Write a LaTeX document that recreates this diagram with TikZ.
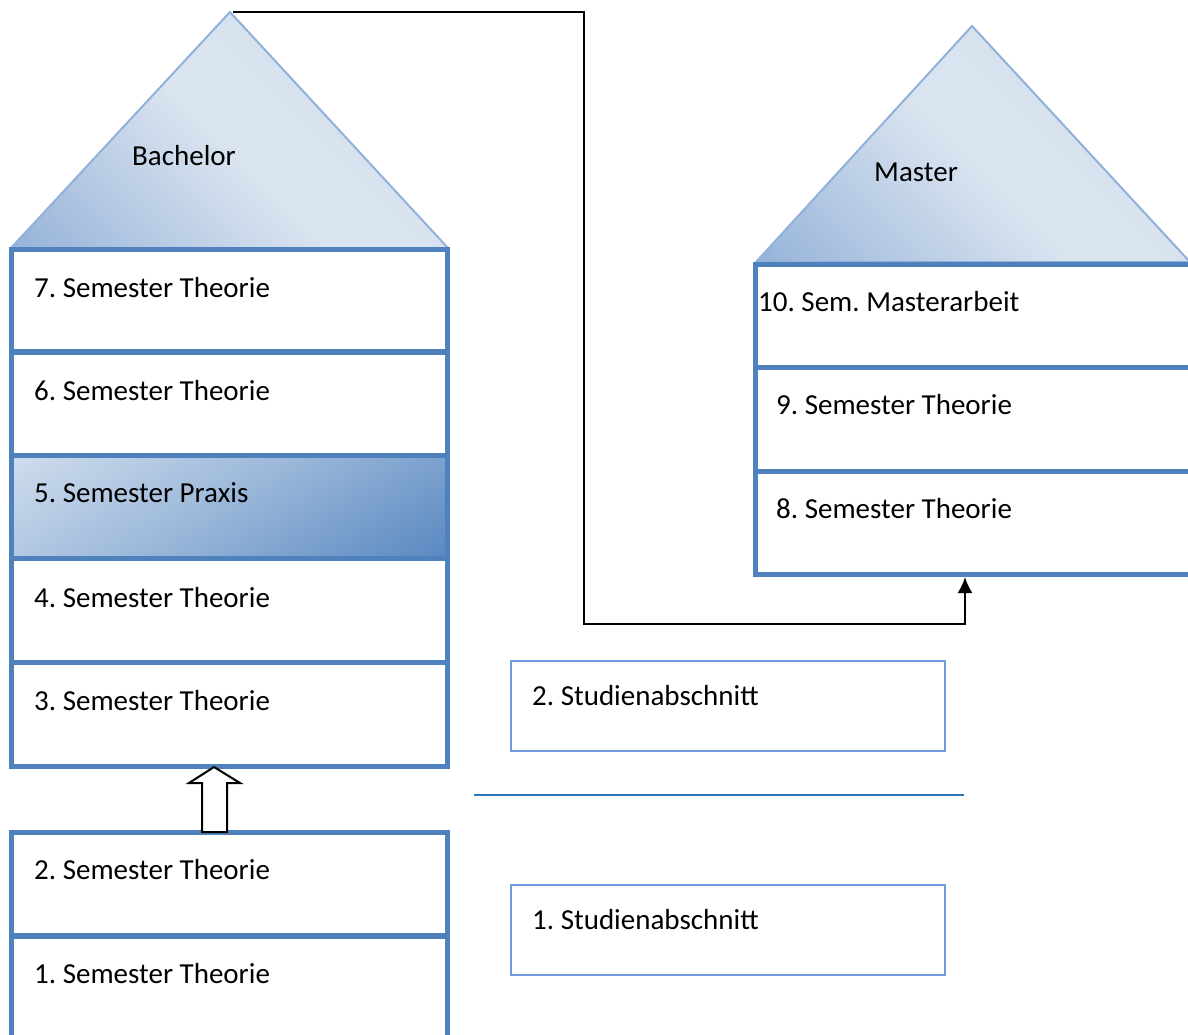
\documentclass[tikz,border=0pt]{standalone}
\usepackage{fontspec}
\setmainfont{Carlito}
\usetikzlibrary{arrows.meta}
\frenchspacing

\definecolor{boxblue}{HTML}{4F81BD}
\definecolor{roofline}{HTML}{92B1DA}
\definecolor{roofdark}{HTML}{88A9D4}
\definecolor{rooflight}{HTML}{DAE4F0}
\definecolor{rooftop}{HTML}{BFD0E8}
\definecolor{praxislight}{HTML}{DCE6F2}
\definecolor{stageblue}{HTML}{6F9BDB}
\definecolor{splitblue}{HTML}{2E75B6}

\pgfdeclareverticalshading{roofshade}{100bp}{color(0bp)=(roofdark); color(8bp)=(roofdark);
  color(48bp)=(rooflight); color(58bp)=(rooflight); color(92bp)=(rooftop); color(100bp)=(rooftop)}
\pgfdeclareverticalshading{praxisshade}{100bp}{color(0bp)=(boxblue); color(10bp)=(boxblue);
  color(50bp)=(praxislight!52!boxblue); color(92bp)=(praxislight); color(100bp)=(praxislight)}

\tikzset{
  sembox/.style={draw=boxblue, line width=5pt, rectangle, inner sep=0pt, outer sep=0pt,
    minimum width=#1, minimum height=103.5pt},
  sembox/.default=436pt,
  stagebox/.style={draw=stageblue, line width=2pt, rectangle, inner sep=0pt, outer sep=0pt,
    minimum width=434pt, minimum height=90pt},
  roof/.style={draw=roofline, line width=2pt, shading=roofshade, shading angle=-45},
  lbl/.style={anchor=base west, inner sep=0pt, font=\fontsize{29}{34}\selectfont},
  conn/.style={line width=2pt, -{Latex[length=16pt,width=15pt]}},
  hollow/.style={draw=black, fill=white, line width=2pt, line join=miter}
}

\begin{document}
\begin{tikzpicture}[x=1pt,y=-1pt]
  \useasboundingbox (0,0) rectangle (1188,1034);
  \clip (0,0) rectangle (1188,1034);

  % roofs
  \coordinate (bapex) at (230,12);
  \coordinate (mapex) at (972,26);
  \path[roof] (bapex) -- (448,248) -- (11,248) -- cycle;
  \path[roof] (mapex) -- (1190,262) -- (756,262) -- cycle;
  \node[lbl] (bachelor) at (132,165) {Bachelor};
  \node[lbl] (master) at (874,181) {Master};

  % bachelor semesters
  \node[sembox] (b7) at (229,301) {};
  \node[sembox] (b6) at (229,403.5) {};
  \node[sembox, shading=praxisshade, shading angle=32] (b5) at (229,507) {};
  \node[sembox] (b4) at (229,610.5) {};
  \node[sembox] (b3) at (229,714.5) {};
  \node[sembox] (b2) at (229,884) {};
  \node[sembox] (b1) at (229,988) {};

  \node[lbl] (t7) at (34,297) {7. Semester Theorie};
  \node[lbl] (t6) at (34,400) {6. Semester Theorie};
  \node[lbl] (t5) at (34,502) {5. Semester Praxis};
  \node[lbl] (t4) at (34,607) {4. Semester Theorie};
  \node[lbl] (t3) at (34,710) {3. Semester Theorie};
  \node[lbl] (t2) at (34,879) {2. Semester Theorie};
  \node[lbl] (t1) at (34,983) {1. Semester Theorie};

  % master semesters
  \node[sembox=446pt] (m10) at (978,316) {};
  \node[sembox=446pt] (m9) at (978,419.5) {};
  \node[sembox=446pt] (m8) at (978,523) {};

  \node[lbl] (t10) at (758,311) {10. Sem. Masterarbeit};
  \node[lbl] (t9) at (776,414) {9. Semester Theorie};
  \node[lbl] (t8) at (776,518) {8. Semester Theorie};

  % study stages
  \node[stagebox] (s2) at (728,706) {};
  \node[stagebox] (s1) at (728,930) {};
  \node[lbl] (st2) at (532,705) {2. Studienabschnitt};
  \node[lbl] (st1) at (532,929) {1. Studienabschnitt};
  \draw[splitblue, line width=1.6pt] (474,795) -- (964,795);

  % step up between the two groups
  \draw[hollow] (202,832) -- (202,783) -- (189,783) -- (214,767) -- (240,783)
    -- (227,783) -- (227,832) -- cycle;

  % from bachelor roof to master
  \coordinate (turn) at (584,624);
  \coordinate (mtip) at (965,577);
  \draw[conn] ([xshift=3pt]bapex) -| (turn) -| (mtip);
\end{tikzpicture}
\end{document}
